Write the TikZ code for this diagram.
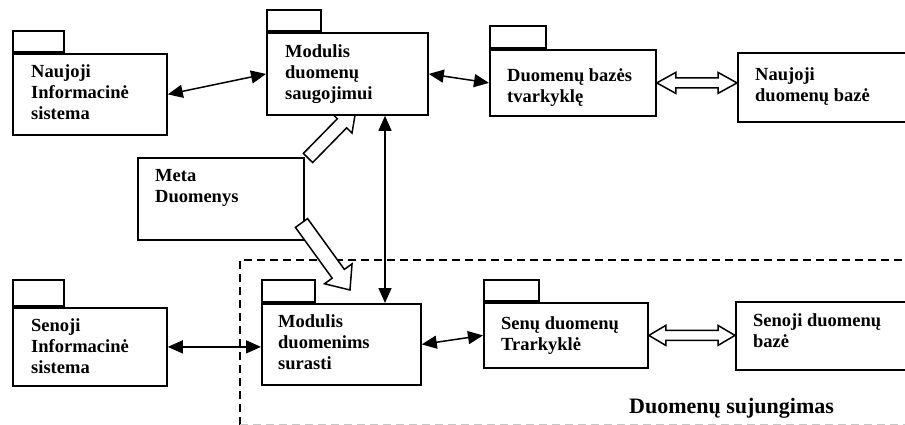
\documentclass[tikz,border=0pt]{standalone}
\usepackage{fontspec}
\setmainfont{Liberation Serif}
\usetikzlibrary{arrows.meta,calc}

\tikzset{
  pkg/.style={draw, fill=white, line width=1.8pt, inner sep=0pt, anchor=north west},
  pkgtab/.style={draw, fill=white, line width=1.8pt, inner sep=0pt, anchor=south west},
  label/.style={anchor=north west, inner sep=0pt, yshift=14.91pt, align=left,
    font=\fontsize{18.5}{21.3}\selectfont\bfseries},
  link/.style={line width=1.5pt, {Triangle[length=15pt,width=13pt]}-{Triangle[length=15pt,width=13pt]}},
  blockarrow/.style={draw, fill=white, line width=1.5pt, line join=miter},
  region/.style={draw, line width=1.4pt, dash pattern=on 8pt off 5pt},
}

% hollow block arrow: start, tip, shaft half width, head half width, head length
\newcommand\hollowarrow[5]{%
  \coordinate (hbk) at ($(#2)!#5!(#1)$);
  \path[blockarrow]
    ($(#1)!#3!90:(#2)$) -- ($(hbk)!#3!90:(#2)$) -- ($(hbk)!#4!90:(#2)$) --
    (#2) -- ($(hbk)!#4!-90:(#2)$) -- ($(hbk)!#3!-90:(#2)$) --
    ($(#1)!#3!-90:(#2)$) -- cycle;
}
% hollow double-headed block arrow between two tips
\newcommand\hollowdarrow[5]{%
  \coordinate (hba) at ($(#1)!#5!(#2)$);
  \coordinate (hbb) at ($(#2)!#5!(#1)$);
  \path[blockarrow]
    (#1) -- ($(hba)!#4!90:(#2)$) -- ($(hba)!#3!90:(#2)$) --
    ($(hbb)!#3!90:(#2)$) -- ($(hbb)!#4!90:(#2)$) -- (#2) --
    ($(hbb)!#4!-90:(#2)$) -- ($(hbb)!#3!-90:(#2)$) --
    ($(hba)!#3!-90:(#2)$) -- ($(hba)!#4!-90:(#2)$) -- cycle;
}

\begin{document}
\begin{tikzpicture}[x=1pt,y=-1pt]
\useasboundingbox (0,0) rectangle (905,425);
\fill[white] (0,0) rectangle (905,425);

% merging region
\draw[region] (240,425) -- (240,260) -- (920,260);
\draw[region, gray!45] (240,424.5) -- (920,424.5);

% metadata box
\node[pkg, minimum width=166pt, minimum height=82pt] (meta) at (137,157) {};
\node[label] (metat) at (155,184) {Meta\\Duomenys};

% metadata flows
\coordinate (mupS) at (308,158);
\coordinate (mupE) at (356,109);
\coordinate (mdnS) at (301.5,223);
\coordinate (mdnE) at (350,290);
\hollowarrow{mupS}{mupE}{6.5pt}{14pt}{20pt}
\hollowarrow{mdnS}{mdnE}{7.5pt}{17pt}{20pt}

% new information system
\node[pkg, minimum width=154pt, minimum height=81pt] (nis) at (12,53) {};
\node[pkgtab, minimum width=51pt, minimum height=21pt] (nistab) at (nis.north west) {};
\node[label] (nist) at (31,79) {Naujoji\\Informacinė\\sistema};

% storage module
\node[pkg, minimum width=161pt, minimum height=82pt] (msg) at (266,32) {};
\node[pkgtab, minimum width=54pt, minimum height=21pt] (msgtab) at (msg.north west) {};
\node[label] (msgt) at (285,59) {Modulis\\duomenų\\saugojimui};

% database manager
\node[pkg, minimum width=166pt, minimum height=66pt] (dbt) at (489,49) {};
\node[pkgtab, minimum width=56pt, minimum height=22pt] (dbttab) at (dbt.north west) {};
\node[label] (dbtt) at (507,83) {Duomenų bazės\\tvarkyklę};

% new database
\node[pkg, minimum width=183pt, minimum height=69pt] (ndb) at (737,52) {};
\node[label] (ndbt) at (755,82) {Naujoji\\duomenų bazė};

% old information system
\node[pkg, minimum width=154pt, minimum height=78pt] (sis) at (12,307) {};
\node[pkgtab, minimum width=51pt, minimum height=26pt] (sistab) at (sis.north west) {};
\node[label] (sist) at (31,333) {Senoji\\Informacinė\\sistema};

% search module
\node[pkg, minimum width=159pt, minimum height=81pt] (mds) at (261,303) {};
\node[pkgtab, minimum width=53pt, minimum height=22pt] (mdstab) at (mds.north west) {};
\node[label] (mdst) at (278,329) {Modulis\\duomenims\\surasti};

% old data manager
\node[pkg, minimum width=164pt, minimum height=65pt] (sdt) at (483,302) {};
\node[pkgtab, minimum width=55pt, minimum height=21pt] (sdttab) at (sdt.north west) {};
\node[label] (sdtt) at (501,331) {Senų duomenų\\Trarkyklė};

% old database
\node[pkg, minimum width=185pt, minimum height=68pt] (sdb) at (735,301) {};
\node[label] (sdbt) at (753,328) {Senoji duomenų\\bazė};

% region caption
\node[anchor=base west, inner sep=0pt, font=\fontsize{22}{26}\selectfont\bfseries]
  (cap) at (629,413) {Duomenų sujungimas};

% database links
\hollowdarrow{dbt.east}{dbt.east -| ndb.west}{5pt}{10.5pt}{19pt}
\hollowdarrow{sdt.east}{sdt.east -| sdb.west}{5pt}{10pt}{17pt}

% module links
\coordinate (vx) at (385,0);
\draw[link] (nis.east) -- (msg.west);
\draw[link] (msg.east) -- (dbt.west);
\draw[link] (msg.south -| vx) -- (mds.north -| vx);
\draw[link] (sis.east) -- (sis.east -| mds.west);
\draw[link] (mds.east) -- (sdt.west);
\end{tikzpicture}
\end{document}
